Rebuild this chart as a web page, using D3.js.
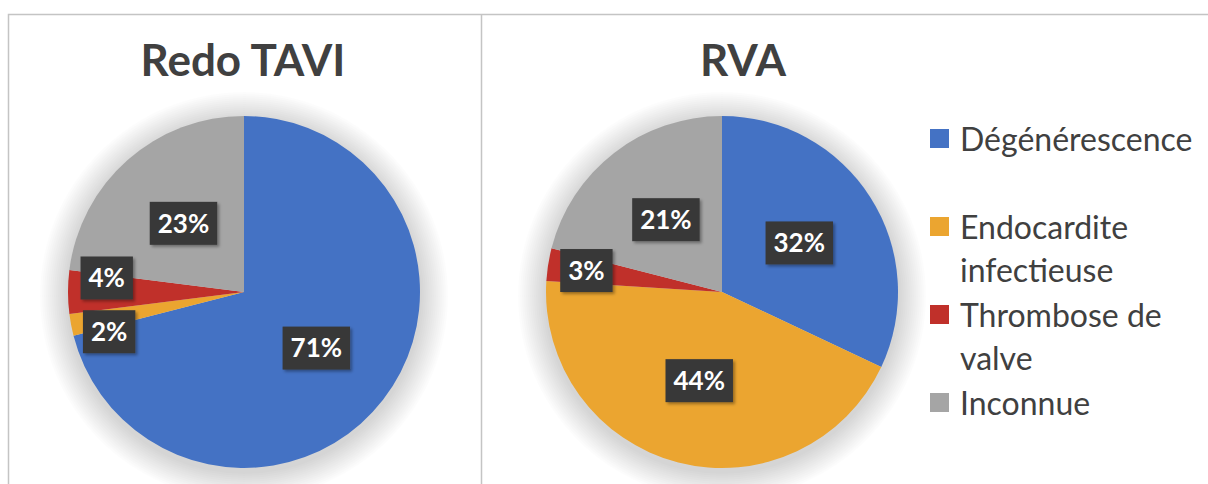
<!DOCTYPE html>
<html>
<head>
<meta charset="utf-8">
<script src="https://cdn.jsdelivr.net/npm/d3@7"></script>
<style>
  body { margin: 0; background: #fff; }
  svg { display: block; }
</style>
</head>
<body>
<script>
const W = 1208, H = 484;

// data
const categories = ["Dégénérescence", "Endocardite infectieuse", "Thrombose de valve", "Inconnue"];
const legendLines = [["Dégénérescence"], ["Endocardite", "infectieuse"], ["Thrombose de", "valve"], ["Inconnue"]];
const colors = ["#4472c4", "#eba530", "#c0302a", "#a5a5a5"];
const chartTitles = ["Redo TAVI", "RVA"];
const redoTavi = [71, 2, 4, 23];
const rva = [32, 44, 3, 21];

const svg = d3.select("body").append("svg")
    .attr("width", W)
    .attr("height", H);

const radius = 176;

const defs = svg.append("defs");
const boxShadow = defs.append("filter").attr("id", "boxShadow")
    .attr("x", "-30%").attr("y", "-30%").attr("width", "160%").attr("height", "160%");
boxShadow.append("feDropShadow")
    .attr("dx", 2).attr("dy", 2).attr("stdDeviation", 1.5)
    .attr("flood-color", "#000").attr("flood-opacity", 0.35);

// panel borders
svg.append("path")
    .attr("d", `M8.5,${H} V14.5 H${W}`)
    .attr("fill", "none").attr("stroke", "#c4c4c4").attr("stroke-width", 1.5);
svg.append("line")
    .attr("x1", 481.5).attr("x2", 481.5).attr("y1", 14).attr("y2", H)
    .attr("stroke", "#c4c4c4").attr("stroke-width", 1.5);

const pie = d3.pie().sort(null).value(d => d);
const arc = d3.arc().innerRadius(0).outerRadius(radius);

function drawPie(values, cx, cy, title, titleX) {
    svg.append("text")
        .attr("x", titleX).attr("y", 76)
        .attr("text-anchor", "middle")
        .attr("font-family", "Lato, 'Open Sans', sans-serif")
        .attr("font-weight", "bold")
        .attr("font-size", 44)
        .attr("fill", "#404040")
        .text(title);

    const g = svg.append("g").attr("transform", `translate(${cx},${cy})`);

    // soft halo under the pie: stacked faint discs
    const rings = d3.range(28, 0, -2);
    g.selectAll("circle.halo")
        .data(rings)
        .enter()
        .append("circle")
        .attr("class", "halo")
        .attr("cx", 0)
        .attr("cy", 4)
        .attr("r", d => radius + d)
        .attr("fill", "#000")
        .attr("fill-opacity", 0.012);

    const arcs = pie(values);
    g.selectAll("path.slice")
        .data(arcs)
        .enter()
        .append("path")
        .attr("class", "slice")
        .attr("d", arc)
        .attr("fill", (d, i) => colors[i]);

    // label positions: centroid, pushed outward for small slices
    let labels = arcs.map((d, i) => {
        const mid = (d.startAngle + d.endAngle) / 2;
        const share = d.value / d3.sum(values);
        const rr = radius * (share >= 0.1 ? 0.52 : 0.78);
        return { text: d.value + "%", x: rr * Math.sin(mid), y: -rr * Math.cos(mid) };
    });

    // simple vertical relaxation so boxes don't overlap
    const bh = 43, bw = 64;
    for (let it = 0; it < 60; it++) {
        for (let a = 0; a < labels.length; a++) {
            for (let b = a + 1; b < labels.length; b++) {
                const A = labels[a], B = labels[b];
                const ox = bw - Math.abs(A.x - B.x);
                const oy = bh + 10 - Math.abs(A.y - B.y);
                if (ox > 0 && oy > 0) {
                    const s = A.y < B.y ? -1 : 1;
                    A.y += s * 1;
                    B.y -= s * 1;
                }
            }
        }
    }

    const lg = g.selectAll("g.lbl")
        .data(labels)
        .enter()
        .append("g")
        .attr("class", "lbl")
        .attr("transform", d => `translate(${d.x},${d.y})`);

    lg.append("text")
        .attr("class", "lt")
        .attr("text-anchor", "middle")
        .attr("dy", "0.36em")
        .attr("font-family", "Lato, 'Open Sans', sans-serif")
        .attr("font-weight", "bold")
        .attr("font-size", 26)
        .attr("fill", "#fff")
        .text(d => d.text);

    lg.each(function () {
        const node = d3.select(this);
        const bb = node.select("text").node().getBBox();
        const w = bb.width + 16;
        node.insert("rect", "text")
            .attr("x", -w / 2).attr("y", -bh / 2)
            .attr("width", w).attr("height", bh)
            .attr("fill", "#393939")
            .attr("filter", "url(#boxShadow)");
    });
}

drawPie(redoTavi, 244, 292, chartTitles[0], 243);
drawPie(rva, 722, 292, chartTitles[1], 743);

// legend
const legendX = 930, legendY0 = 139, legendStep = 88, lineH = 43;
const leg = svg.append("g");
legendLines.forEach((lines, i) => {
    const y = legendY0 + i * legendStep;
    leg.append("rect")
        .attr("x", legendX).attr("y", y - 10)
        .attr("width", 19).attr("height", 19)
        .attr("fill", colors[i]);
    lines.forEach((t, j) => {
        leg.append("text")
            .attr("x", legendX + 30).attr("y", y + j * lineH)
            .attr("dy", "0.36em")
            .attr("font-family", "Lato, 'Open Sans', sans-serif")
            .attr("font-size", 32)
            .attr("fill", "#404040")
            .text(t);
    });
});
</script>
</body>
</html>
